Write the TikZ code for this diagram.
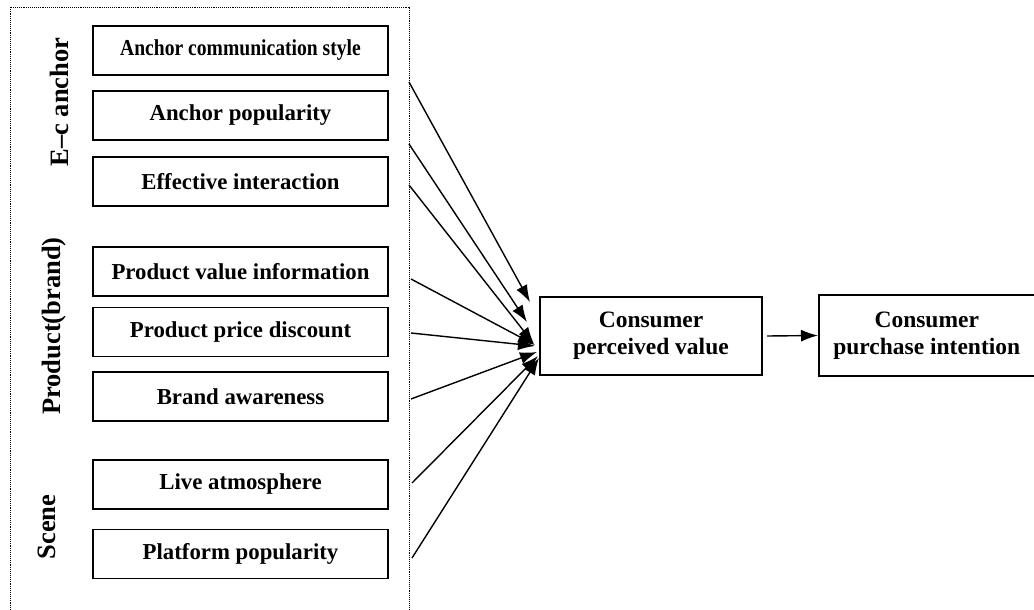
\documentclass[tikz,border=0pt]{standalone}
\usepackage{fontspec}
\setmainfont{Liberation Serif}
\usetikzlibrary{arrows.meta}
\begin{document}
\begin{tikzpicture}[x=1pt,y=-1pt,
  itembox/.style={draw=black,line width=1.5pt,minimum width=295pt,minimum height=49pt,inner sep=0pt,
    font=\fontsize{22.8}{27}\selectfont\bfseries},
  grouplabel/.style={rotate=90,inner sep=0pt,font=\fontsize{26.5}{30}\selectfont\bfseries},
  bigbox/.style={draw=black,line width=1.5pt,inner sep=0pt,align=center,
    font=\fontsize{23.5}{27}\selectfont\bfseries},
  arr/.style={line width=1.4pt,-{Latex[length=17pt,width=12pt]}}]
\useasboundingbox (0,0) rectangle (1034,610);
\fill[white] (0,0) rectangle (1034,610);
% dotted frame
\draw[line width=0.9pt,densely dotted] (10,610) -- (10,7) -- (409,7) -- (409,610);
% group labels
\node[grouplabel] (gE) at (59,102) {E–c anchor};
\node[grouplabel] (gP) at (54,326) {Product(brand)};
\node[grouplabel] (gS) at (47,527) {Scene};
% item boxes
\node[itembox] (b1) at (240.5,50.5) {\scalebox{0.86}[1]{Anchor communication style}};
\node[itembox] (b2) at (240.5,115.5) {Anchor popularity};
\node[itembox] (b3) at (240.5,181.5) {Effective interaction};
\node[itembox] (b4) at (240.5,271.5) {Product value information};
\node[itembox] (b5) at (240.5,332) {Product price discount};
\node[itembox] (b6) at (240.5,396.5) {Brand awareness};
\node[itembox] (b7) at (240.5,484.5) {Live atmosphere};
\node[itembox] (b8) at (240.5,554) {Platform popularity};
% right boxes
\node[bigbox,minimum width=222pt,minimum height=78pt] (cpv) at (651,336) {Consumer\\perceived value};
\node[bigbox,minimum width=216pt,minimum height=81pt,anchor=west] (cpi) at (818,335.5) {Consumer\\purchase intention};
% connector ends
\coordinate (s1) at (409,82);
\coordinate (s2) at (409,144);
\coordinate (s3) at (409,185);
\coordinate (s4) at (411,279);
\coordinate (s5) at (411,333);
\coordinate (s6) at (411,399);
\coordinate (s7) at (412,483);
\coordinate (s8) at (412,558);
\coordinate (t1) at (530,302);
\coordinate (t2) at (527,322);
\coordinate (t3) at (534,344);
\coordinate (t4) at (535,345);
\coordinate (t5) at (535,346);
\coordinate (t6) at (537,352);
\coordinate (t7) at (538,356);
\coordinate (t8) at (539,358);
\foreach \i in {1,...,8}{\draw[arr] (s\i) -- (t\i);}
\coordinate (a0) at (767,336);
\draw[arr] (a0) -- (cpi.west);
\end{tikzpicture}
\end{document}
